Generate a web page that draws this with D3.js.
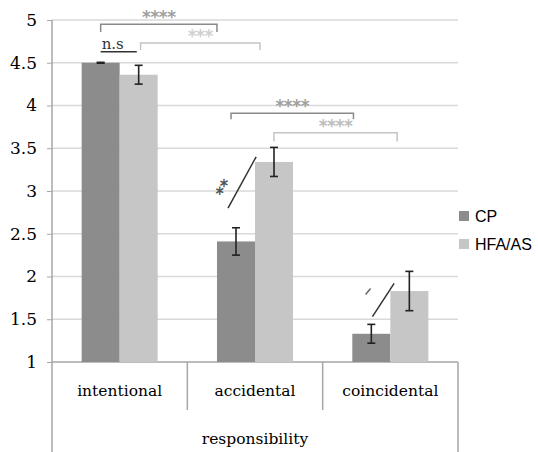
<!DOCTYPE html>
<html lang="en">
<head>
<meta charset="utf-8" />
<script src="https://cdnjs.cloudflare.com/ajax/libs/d3/7.8.5/d3.min.js"></script>
<style>
  body { margin: 0; background: #fff; }
  svg { display: block; }
</style>
</head>
<body>
<div id="chart"></div>
<script>
// data
const categories = ['intentional', 'accidental', 'coincidental'];
const series = ['CP', 'HFA/AS'];
const cpValues = [4.5, 2.41, 1.33];
const cpErrors = [0.005, 0.16, 0.11];
const hfaValues = [4.36, 3.34, 1.83];
const hfaErrors = [0.11, 0.17, 0.23];
const yTicks = [1, 1.5, 2, 2.5, 3, 3.5, 4, 4.5, 5];
const colors = ['#8c8c8c', '#c6c6c6'];

// significance brackets: [cat, series, frac] -> [cat, series, frac], level, drop, label, colour
const brackets = [
    { from: [0, 0, 0.5], to: [1, 0, 0.0], y: 4.95, drop: 4.86, label: '****', color: '#8a8a8a', textColor: '#a0a0a0' },
    { from: [0, 1, 0.55], to: [1, 1, 0.13], y: 4.73, drop: 4.65, label: '***', color: '#c4c4c4', textColor: '#d0d0d0' },
    { from: [1, 0, 0.37], to: [2, 0, 0.03], y: 3.91, drop: 3.84, label: '****', color: '#8a8a8a', textColor: '#a0a0a0' },
    { from: [1, 1, 0.5], to: [2, 1, 0.18], y: 3.68, drop: 3.58, label: '****', color: '#c4c4c4', textColor: '#bdbdbd' }
];
const slashes = [
    { from: [1, 0, 0.29, 2.80], to: [1, 1, 0.03, 3.40] },
    { from: [2, 0, 0.53, 1.53], to: [2, 1, 0.10, 1.92] }
];

const width = 538;
const height = 452;
const margin = { top: 20, left: 52, right: 80, bottom: 90 };

const svg = d3.select('#chart').append('svg')
    .attr('width', width)
    .attr('height', height);

const x = d3.scaleBand()
    .domain(categories)
    .range([margin.left, width - margin.right])
    .padding(0);

const xs = d3.scaleBand()
    .domain(series)
    .range([0, x.bandwidth()])
    .paddingInner(0)
    .paddingOuter(0.78);

const y = d3.scaleLinear()
    .domain([1, 5])
    .range([height - margin.bottom, margin.top]);

const px = (p) => x(categories[p[0]]) + xs(series[p[1]]) + p[2] * xs.bandwidth();

// gridlines
svg.append('g')
    .selectAll('line')
    .data(yTicks.filter((d) => d > 1))
    .join('line')
    .attr('x1', margin.left)
    .attr('x2', width - margin.right)
    .attr('y1', (d) => y(d))
    .attr('y2', (d) => y(d))
    .attr('stroke', '#d9d9d9')
    .attr('stroke-width', 1.5);

// y axis
const yAxis = svg.append('g')
    .attr('transform', `translate(${margin.left},0)`)
    .call(d3.axisLeft(y).tickValues(yTicks).tickFormat(d3.format('')).tickSize(5).tickPadding(10));
yAxis.select('.domain').remove();
yAxis.selectAll('.tick line').attr('stroke', '#a6a6a6');
yAxis.selectAll('.tick text')
    .attr('font-family', 'DejaVu Serif')
    .attr('font-size', 17)
    .attr('fill', '#000');

// axis frame lines
const frame = svg.append('g').attr('stroke', '#a6a6a6').attr('stroke-width', 1.5);
frame.append('line')
    .attr('x1', margin.left).attr('x2', margin.left)
    .attr('y1', y(5)).attr('y2', height);
frame.append('line')
    .attr('x1', margin.left).attr('x2', width - margin.right)
    .attr('y1', y(1)).attr('y2', y(1));
frame.append('line')
    .attr('x1', width - margin.right).attr('x2', width - margin.right)
    .attr('y1', y(1)).attr('y2', height);
frame.selectAll('.div')
    .data(categories.slice(1))
    .join('line')
    .attr('x1', (d) => x(d)).attr('x2', (d) => x(d))
    .attr('y1', y(1)).attr('y2', y(1) + 48);

// category labels
svg.append('g')
    .selectAll('text')
    .data(categories)
    .join('text')
    .attr('x', (d) => x(d) + x.bandwidth() / 2)
    .attr('y', y(1) + 34)
    .attr('text-anchor', 'middle')
    .attr('font-family', 'DejaVu Serif')
    .attr('font-size', 15.5)
    .attr('fill', '#000')
    .text((d) => d);

svg.append('text')
    .attr('x', x(categories[1]) + x.bandwidth() / 2)
    .attr('y', y(1) + 82)
    .attr('text-anchor', 'middle')
    .attr('font-family', 'DejaVu Serif')
    .attr('font-size', 15.5)
    .attr('fill', '#000')
    .text('responsibility');

// bars
const rows = categories.map((c, i) => ({
    cat: c,
    vals: [
        { s: series[0], v: cpValues[i], e: cpErrors[i], k: 0 },
        { s: series[1], v: hfaValues[i], e: hfaErrors[i], k: 1 }
    ]
}));

const groups = svg.append('g')
    .selectAll('g')
    .data(rows)
    .join('g')
    .attr('transform', (d) => `translate(${x(d.cat)},0)`);

groups.selectAll('rect')
    .data((d) => d.vals)
    .join('rect')
    .attr('x', (d) => xs(d.s))
    .attr('y', (d) => y(d.v))
    .attr('width', xs.bandwidth())
    .attr('height', (d) => y(1) - y(d.v))
    .attr('fill', (d) => colors[d.k]);

// error bars
const err = groups.selectAll('.err')
    .data((d) => d.vals)
    .join('g')
    .attr('class', 'err')
    .attr('stroke', '#222')
    .attr('stroke-width', 1.6);
err.append('line')
    .attr('x1', (d) => xs(d.s) + xs.bandwidth() / 2)
    .attr('x2', (d) => xs(d.s) + xs.bandwidth() / 2)
    .attr('y1', (d) => y(d.v + d.e))
    .attr('y2', (d) => y(d.v - d.e));
err.append('line')
    .attr('x1', (d) => xs(d.s) + xs.bandwidth() / 2 - 4)
    .attr('x2', (d) => xs(d.s) + xs.bandwidth() / 2 + 4)
    .attr('y1', (d) => y(d.v + d.e))
    .attr('y2', (d) => y(d.v + d.e));
err.append('line')
    .attr('x1', (d) => xs(d.s) + xs.bandwidth() / 2 - 4)
    .attr('x2', (d) => xs(d.s) + xs.bandwidth() / 2 + 4)
    .attr('y1', (d) => y(d.v - d.e))
    .attr('y2', (d) => y(d.v - d.e));

// brackets
const br = svg.append('g')
    .selectAll('g')
    .data(brackets)
    .join('g');
br.append('path')
    .attr('fill', 'none')
    .attr('stroke', (d) => d.color)
    .attr('stroke-width', 1.5)
    .attr('d', (d) => `M${px(d.from)},${y(d.drop)}V${y(d.y)}H${px(d.to)}V${y(d.drop)}`);
br.append('text')
    .attr('x', (d) => (px(d.from) + px(d.to)) / 2)
    .attr('y', (d) => y(d.y) - 1)
    .attr('text-anchor', 'middle')
    .attr('font-family', 'DejaVu Sans')
    .attr('font-size', 17)
    .attr('font-weight', 'bold')
    .attr('letter-spacing', -0.5)
    .attr('fill', (d) => d.textColor)
    .text((d) => d.label);

// n.s marker
const nsX0 = px([0, 0, 0.5]);
const nsX1 = px([0, 1, 0.45]);
svg.append('text')
    .attr('x', nsX0 + 1)
    .attr('y', y(4.63) - 3)
    .attr('font-family', 'DejaVu Serif')
    .attr('font-size', 15)
    .attr('fill', '#333')
    .text('n.s');
svg.append('line')
    .attr('x1', nsX0).attr('x2', nsX1)
    .attr('y1', y(4.63)).attr('y2', y(4.63))
    .attr('stroke', '#333').attr('stroke-width', 1.5);

// slashes between bars
svg.append('g')
    .selectAll('line')
    .data(slashes)
    .join('line')
    .attr('x1', (d) => px(d.from))
    .attr('y1', (d) => y(d.from[3]))
    .attr('x2', (d) => px(d.to))
    .attr('y2', (d) => y(d.to[3]))
    .attr('stroke', '#333')
    .attr('stroke-width', 1.5);

// "**" beside the accidental slash
const sx = px([1, 0, 0.33]);
svg.append('text')
    .attr('transform', `translate(${sx},${y(3.0)}) rotate(-62)`)
    .attr('text-anchor', 'middle')
    .attr('font-family', 'DejaVu Sans')
    .attr('font-size', 17)
    .attr('font-weight', 'bold')
    .attr('fill', '#555')
    .text('**');

// small tick beside the coincidental slash
svg.append('line')
    .attr('x1', px([2, 0, 0.35]))
    .attr('y1', y(1.79))
    .attr('x2', px([2, 0, 0.48]))
    .attr('y2', y(1.86))
    .attr('stroke', '#666')
    .attr('stroke-width', 1.5);

// legend
const legend = svg.append('g')
    .attr('transform', `translate(${width - margin.right + 1},211)`);
const li = legend.selectAll('g')
    .data(series)
    .join('g')
    .attr('transform', (d, i) => `translate(0,${i * 28})`);
li.append('rect')
    .attr('width', 10)
    .attr('height', 10)
    .attr('fill', (d, i) => colors[i]);
li.append('text')
    .attr('x', 16)
    .attr('y', 5)
    .attr('dy', '0.35em')
    .attr('font-family', 'Liberation Sans')
    .attr('font-size', 16)
    .attr('fill', '#000')
    .text((d) => d);
</script>
</body>
</html>
